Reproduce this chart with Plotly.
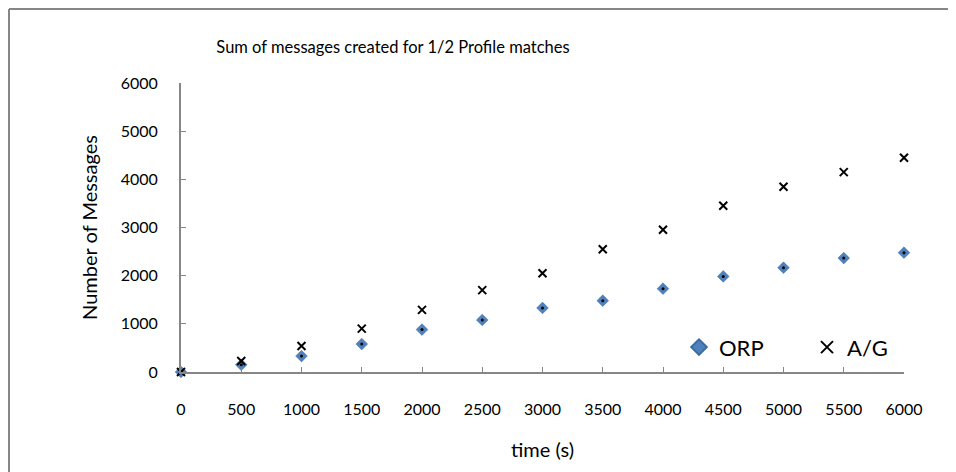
import plotly.graph_objects as go

time_s = [0, 500, 1000, 1500, 2000, 2500, 3000, 3500, 4000, 4500, 5000, 5500, 6000]
orp = [0, 150, 330, 580, 880, 1080, 1330, 1480, 1730, 1985, 2165, 2365, 2478]
ag = [0, 230, 540, 900, 1290, 1700, 2050, 2550, 2955, 3450, 3846, 4149, 4448]
x_ticks = [0, 500, 1000, 1500, 2000, 2500, 3000, 3500, 4000, 4500, 5000, 5500, 6000]
y_ticks = [0, 1000, 2000, 3000, 4000, 5000, 6000]

FONT = "Lato"
OFF = 8  # page body offset
W, H = 948, 464
L, T = 181 - OFF, 83 - OFF
PW, PH = 723, 289
R, B = W - L - PW, H - T - PH

fig = go.Figure()
fig.add_trace(go.Scatter(x=time_s, y=orp, mode="markers", name="ORP",
                         marker=dict(symbol="diamond", size=9, color="#4F81BD",
                                     line=dict(color="#3A6BA5", width=0.5)),
                         cliponaxis=False))
fig.add_trace(go.Scatter(x=time_s, y=orp, mode="markers", showlegend=False, hoverinfo="skip",
                         marker=dict(symbol="circle", size=3, color="black"),
                         cliponaxis=False))
fig.add_trace(go.Scatter(x=time_s, y=ag, mode="markers", name="A/G",
                         marker=dict(symbol="x-thin", size=8, color="black",
                                     line=dict(color="black", width=2)),
                         cliponaxis=False))

border = dict(color="#868686", width=2)
fig.update_layout(
    width=W, height=H,
    margin=dict(l=L, r=R, t=T, b=B, autoexpand=False),
    paper_bgcolor="white", plot_bgcolor="white",
    font=dict(family=FONT, size=16, color="black"),
    title=dict(text="Sum of messages created for 1/2 Profile matches",
               x=(393 - OFF)/W, xanchor="center", y=1-(47 - OFF)/H, yanchor="middle",
               font=dict(size=16.5, family=FONT, color="black")),
    legend=dict(orientation="h", x=(679 - 181)/PW, xanchor="left", y=(371.7-347)/PH, yanchor="middle",
                font=dict(size=22, family=FONT), bgcolor="rgba(0,0,0,0)",
                itemsizing="constant", itemwidth=30, entrywidth=83, tracegroupgap=0),
    xaxis=dict(range=[0, 6000], tickvals=x_ticks, showgrid=False, zeroline=False,
               showline=True, linecolor="#868686", linewidth=2, automargin=False,
               ticks="inside", ticklen=5, tickcolor="#868686", tickwidth=1,
               ticklabelstandoff=22, tickfont=dict(size=16),
               title=dict(text="time (s)", font=dict(size=20), standoff=26)),
    yaxis=dict(range=[0, 6000], tickvals=y_ticks, showgrid=False, zeroline=False,
               showline=True, linecolor="#868686", linewidth=2, automargin=False,
               ticks="inside", ticklen=5, tickcolor="#868686", tickwidth=1,
               ticklabelstandoff=18, tickfont=dict(size=16),
               title=dict(text="Number of Messages", font=dict(size=20), standoff=18)),
    shapes=[
        dict(type="line", xref="paper", yref="paper",
             x0=(1 - L)/PW, x1=(1 - L)/PW, y0=-(B + 5)/PH, y1=1 + (T - 1)/PH, line=border),
        dict(type="line", xref="paper", yref="paper",
             x0=(1 - L)/PW, x1=(W + 5 - L)/PW, y0=1 + (T - 1)/PH, y1=1 + (T - 1)/PH, line=border),
    ],
)
fig.write_html("out.html")
